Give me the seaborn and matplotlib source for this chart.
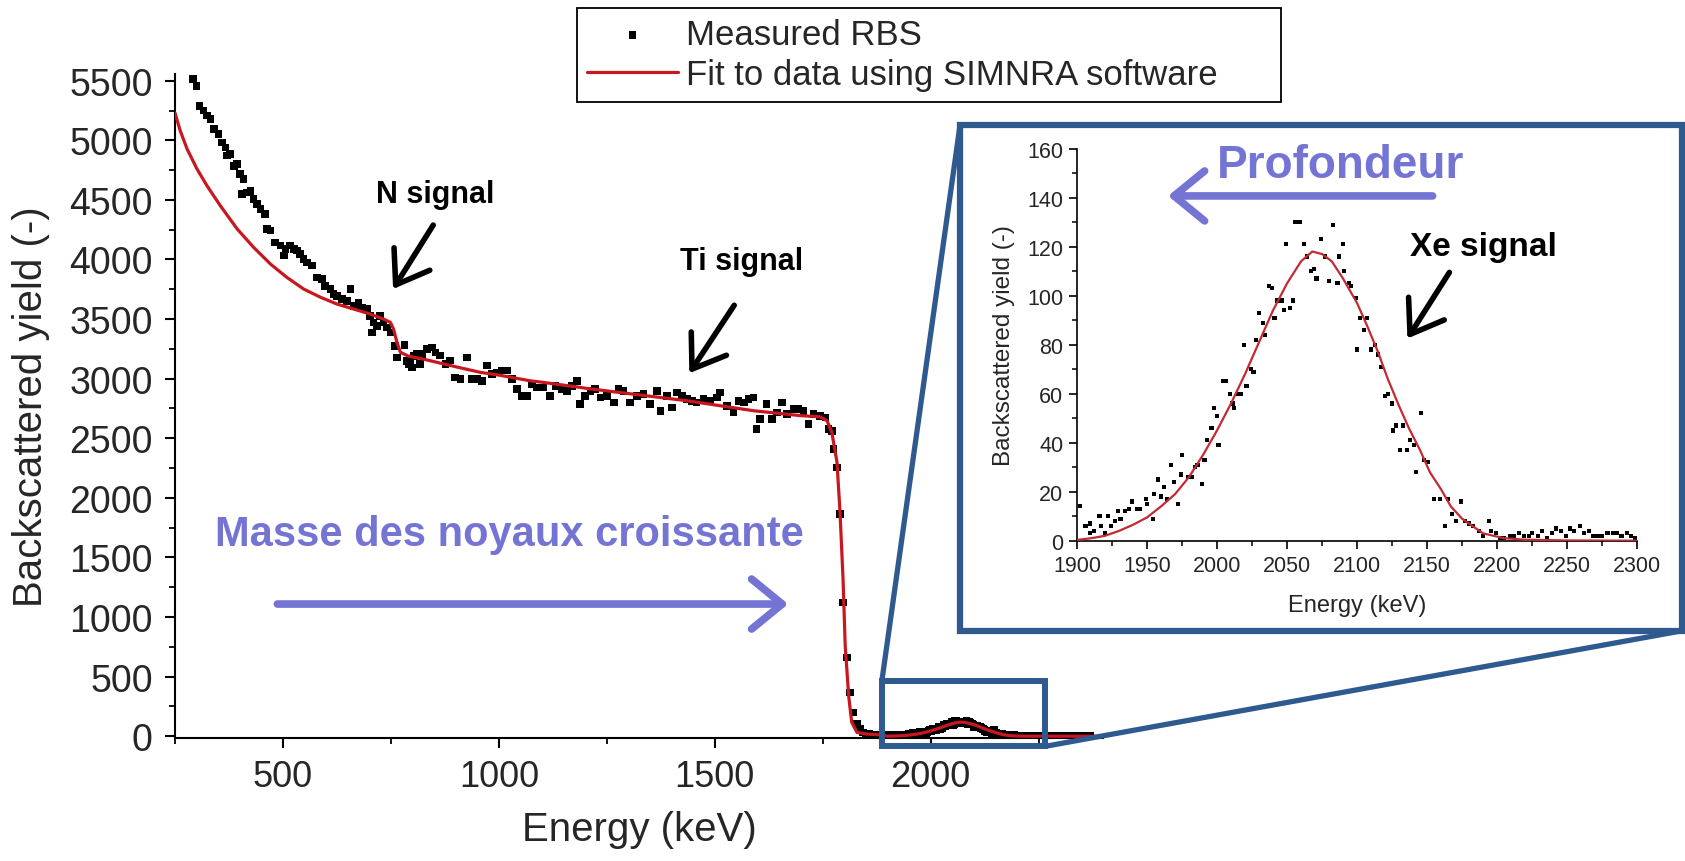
import matplotlib
matplotlib.use("Agg")
import matplotlib.pyplot as plt
import seaborn as sns
import pandas as pd
from matplotlib.patches import Rectangle, ConnectionPatch
from matplotlib.ticker import MultipleLocator
from matplotlib import font_manager as fm

# ---------------- data ----------------
# main spectrum, measured RBS points (keV, counts)
energy_main = [292, 300, 307, 316, 324, 332, 340, 351, 359, 367, 371, 378, 386, 394, 401, 405, 409, 417,
               425, 432, 440, 448, 459, 463, 471, 482, 494, 502, 506, 517, 525, 533, 540, 548, 556, 567,
               579, 591, 598, 610, 617, 625, 637, 648, 656, 664, 675, 683, 694, 702, 706, 710, 718, 725,
               733, 741, 749, 760, 764, 781, 787, 791, 795, 799, 803, 810, 818, 822, 834, 845, 853, 864,
               876, 887, 899, 911, 926, 938, 949, 961, 972, 984, 996, 1007, 1019, 1030, 1042, 1053, 1065,
               1077, 1088, 1103, 1119, 1131, 1146, 1158, 1169, 1181, 1188, 1200, 1212, 1223, 1235, 1250,
               1266, 1277, 1289, 1304, 1320, 1335, 1350, 1366, 1374, 1389, 1401, 1412, 1424, 1435, 1447,
               1458, 1474, 1489, 1505, 1512, 1528, 1543, 1555, 1567, 1578, 1590, 1597, 1605, 1620, 1632,
               1644, 1655, 1667, 1682, 1694, 1705, 1717, 1729, 1744, 1756, 1763, 1771, 1775, 1783, 1790,
               1797, 1806, 1813, 1821, 1829, 1836, 1843, 1850, 1858, 1866, 1874, 1882, 1890]
yield_main = [5514, 5458, 5290, 5249, 5207, 5179, 5095, 5053, 4983, 4941, 4871, 4885, 4787, 4801, 4717, 4549, 4675, 4563,
              4577, 4507, 4466, 4424, 4382, 4256, 4242, 4144, 4116, 4032, 4088, 4116, 4088, 4074, 4046, 4004, 3976, 3948,
              3850, 3836, 3780, 3752, 3710, 3696, 3668, 3654, 3752, 3612, 3640, 3598, 3584, 3528, 3388, 3472, 3444, 3528,
              3472, 3430, 3388, 3276, 3179, 3280, 3150, 3123, 3136, 3095, 3192, 3207, 3123, 3206, 3249, 3263, 3221, 3193,
              3123, 3151, 3011, 2997, 3179, 2997, 2997, 2983, 3109, 3039, 3053, 3067, 3067, 2997, 2913, 2857, 2857,
              2955, 2927, 2927, 2857, 2941, 2913, 2899, 2941, 2983, 2787, 2857, 2899, 2913, 2843, 2857,
              2801, 2913, 2899, 2801, 2857, 2871, 2787, 2899, 2731, 2857, 2759, 2885, 2857, 2829, 2815,
              2801, 2829, 2815, 2843, 2885, 2773, 2717, 2815, 2801, 2829, 2843, 2577, 2661, 2787, 2661,
              2717, 2801, 2703, 2745, 2745, 2731, 2619, 2703, 2689, 2675, 2577, 2563, 2410, 2256, 1864,
              1123, 662, 368, 200, 102, 60, 30, 22, 18, 15, 12, 12, 10]
energy_tail = [2310, 2320, 2330, 2340, 2350, 2360, 2370]
yield_tail = [2, 3, 1, 2, 2, 1, 2]

# SIMNRA fit, main spectrum (keV, counts)
fit_energy_main = [250, 262, 278, 301, 324, 355, 394, 432, 471, 509, 548, 587, 625, 664, 702, 733, 749, 756,
                   764, 772, 790, 830, 900, 957, 1000, 1071, 1100, 1188, 1200, 1300, 1435, 1590, 1698, 1744,
                   1760, 1771, 1783, 1790, 1797, 1802, 1810, 1817, 1829, 1852, 1880]
fit_yield_main = [5230, 5081, 4927, 4759, 4619, 4451, 4256, 4102, 3962, 3850, 3752, 3683, 3626, 3584, 3542, 3500, 3472, 3416,
                  3305, 3221, 3190, 3160, 3100, 3053, 3030, 2983, 2970, 2927, 2920, 2875, 2815, 2731, 2690, 2680,
                  2647, 2550, 2298, 1879, 1319, 759, 340, 117, 33, 18, 12]
fit_energy_end = [2350, 2390]
fit_yield_end = [0, 0]

# Xe signal (inset), measured points
energy_xe = [1902, 1906, 1909, 1909, 1912, 1916, 1917, 1920, 1922, 1924, 1927, 1929, 1931, 1934, 1937, 1939,
             1943, 1945, 1949, 1950, 1954, 1955, 1958, 1960, 1962, 1964, 1967, 1969, 1972, 1974, 1975, 1979,
             1982, 1984, 1986, 1989, 1991, 1993, 1996, 1998, 2000, 2001, 2004, 2006, 2009, 2011, 2012, 2015,
             2017, 2019, 2021, 2024, 2026, 2028, 2030, 2033, 2034, 2037, 2039, 2041, 2043, 2046, 2048, 2049,
             2052, 2054, 2056, 2059, 2062, 2064, 2067, 2069, 2071, 2074, 2077, 2080, 2083, 2086, 2087, 2090,
             2091, 2094, 2096, 2099, 2100, 2102, 2105, 2107, 2110, 2113, 2115, 2117, 2120, 2122, 2125, 2126,
             2128, 2131, 2133, 2136, 2138, 2141, 2142, 2146, 2148, 2151, 2155, 2159, 2163, 2165, 2168, 2171,
             2174, 2177, 2180, 2183, 2187, 2190, 2194, 2196, 2199, 2202, 2205, 2209, 2212, 2216, 2219, 2223,
             2225, 2229, 2232, 2236, 2239, 2242, 2246, 2249, 2252, 2255, 2259, 2262, 2266, 2269, 2272, 2275,
             2279, 2283, 2286, 2289, 2293, 2296, 2299]
yield_xe = [14, 6, 7, 3, 4, 10, 6, 3, 10, 6, 8, 12, 9, 12, 13, 16,
            13, 13, 17, 15, 9, 19, 25, 18, 22, 17, 31, 24, 15, 27, 35, 26,
            26, 30, 31, 23, 33, 41, 46, 54, 51, 39, 65, 65, 60, 56, 54, 60,
            60, 80, 63, 70, 69, 82, 93, 89, 84, 104, 103, 91, 98, 98, 94, 121,
            95, 98, 130, 130, 121, 116, 110, 111, 107, 123, 116, 106, 129, 105, 116, 121,
            110, 105, 104, 99, 78, 91, 86, 91, 78, 80, 76, 71, 59, 60, 56, 45,
            47, 37, 47, 37, 41, 39, 28, 52, 33, 32, 17, 17, 6, 17, 11, 8,
            16, 8, 7, 6, 4, 2, 8, 4, 3, 1, 1, 2, 2, 3, 2, 2,
            3, 2, 4, 1, 3, 5, 4, 2, 5, 4, 6, 3, 4, 2, 2, 2,
            3, 3, 3, 2, 3, 2, 1]

# SIMNRA fit, Xe signal (inset)
fit_energy_xe = [1900, 1910, 1920, 1930, 1940, 1950, 1960, 1970, 1980, 1990, 2000, 2010, 2020, 2030, 2040,
                 2050, 2060, 2068, 2075, 2082, 2090, 2100, 2107, 2115, 2122, 2130, 2137, 2145, 2152, 2160,
                 2167, 2175, 2190, 2205, 2220, 2250, 2300]
fit_yield_xe = [0.3, 1, 2, 4, 6.5, 9.5, 14, 19, 26, 35, 45, 56, 68, 81, 94,
                105, 114, 118, 117, 114, 107, 97, 88, 77, 66, 55, 46, 37, 28, 21,
                14, 9, 3, 1, 0.4, 0.1, 0]

main_points = pd.DataFrame({"E": energy_main + energy_xe + energy_tail,
                            "Y": yield_main + yield_xe + yield_tail})
main_fit = pd.DataFrame({"E": fit_energy_main + fit_energy_xe + fit_energy_end,
                         "Y": fit_yield_main + fit_yield_xe + fit_yield_end})
xe_points = pd.DataFrame({"E": energy_xe, "Y": yield_xe})
xe_fit = pd.DataFrame({"E": fit_energy_xe, "Y": fit_yield_xe})

# ---------------- style ----------------
sns.set_theme(style="ticks")
plt.rcParams["font.family"] = ["Liberation Sans", "DejaVu Sans"]


def has_font(name):
    try:
        fm.findfont(fm.FontProperties(family=name), fallback_to_default=False)
        return True
    except Exception:
        return False


NARROW = "Liberation Sans Narrow" if has_font("Liberation Sans Narrow") else None

RED = "#C8171F"
PURPLE = "#7474D4"
BLUE = "#2E5A90"

fig = plt.figure(figsize=(16.85, 8.62), dpi=100)
fig.patch.set_facecolor("white")

# ---------------- main axes ----------------
ax = fig.add_axes([0.10386, 0.14269, 0.5510, 0.7708])
sns.scatterplot(data=main_points, x="E", y="Y", marker="s", s=30, color="black",
                edgecolor="none", linewidth=0, ax=ax, label="Measured RBS", zorder=3)
sns.lineplot(data=main_fit, x="E", y="Y", color=RED, lw=2.3, ax=ax, sort=False,
             estimator=None, label="Fit to data using SIMNRA software", zorder=4)
handles, labels = ax.get_legend_handles_labels()
if ax.get_legend() is not None:
    ax.get_legend().remove()

ax.set_xlim(250, 2400)
ax.set_ylim(-15, 5560)
ax.xaxis.set_major_locator(MultipleLocator(500))
ax.xaxis.set_minor_locator(MultipleLocator(250))
ax.yaxis.set_major_locator(MultipleLocator(500))
ax.yaxis.set_minor_locator(MultipleLocator(250))
ax.tick_params(axis="both", which="major", direction="out", length=7, width=1.5, color="black")
ax.tick_params(axis="both", which="minor", direction="out", length=4, width=1.3, color="black")
ax.tick_params(axis="x", which="major", labelsize=26, pad=8)
ax.tick_params(axis="y", which="major", labelsize=27, pad=9)
for s in ["left", "bottom"]:
    ax.spines[s].set_linewidth(1.5)
    ax.spines[s].set_color("black")
sns.despine(ax=ax)
ax.set_facecolor("white")

ax.set_xlabel("Energy (keV)", fontsize=29, va="top")
ax.set_ylabel("Backscattered yield (-)", fontsize=29)
ax.xaxis.set_label_coords(0.5, -0.108)
ax.yaxis.set_label_coords(-0.135, 0.5)

# callout texts and arrows on main axes
if NARROW:
    callout_kw = dict(family=[NARROW, "DejaVu Sans"], fontweight="bold", fontsize=24)
else:
    callout_kw = dict(fontweight="bold", fontsize=22)
ax.text(853, 4549, "N signal", ha="center", va="center", color="black", **callout_kw)
ax.annotate("", xy=(755, 3752), xytext=(848, 4289),
            arrowprops=dict(arrowstyle="->,head_length=0.55,head_width=0.38", lw=4,
                            color="black", mutation_scale=40, shrinkA=0, shrinkB=0))
ax.text(1561, 3987, "Ti signal", ha="center", va="center", color="black", **callout_kw)
ax.annotate("", xy=(1441, 3046), xytext=(1545, 3616),
            arrowprops=dict(arrowstyle="->,head_length=0.55,head_width=0.38", lw=4,
                            color="black", mutation_scale=40, shrinkA=0, shrinkB=0))

ax.text(1024, 1697, "Masse des noyaux croissante", ha="center", va="center", color=PURPLE,
        fontsize=30, fontweight="bold")
ax.annotate("", xy=(1670, 1109), xytext=(487, 1109),
            arrowprops=dict(arrowstyle="->,head_length=0.55,head_width=0.45", lw=5.5,
                            color=PURPLE, mutation_scale=40, shrinkA=0, shrinkB=0))

# small zoom box on main axes
zoom_box = Rectangle((1887, -85), 378, 551, fill=False, edgecolor=BLUE, lw=4.3,
                     clip_on=False, zorder=6)
ax.add_patch(zoom_box)

# ---------------- inset axes ----------------
axin = fig.add_axes([0.6392, 0.3716, 0.3323, 0.4548])
sns.scatterplot(data=xe_points, x="E", y="Y", marker="s", s=9, color="black",
                edgecolor="none", linewidth=0, ax=axin, zorder=3, legend=False)
sns.lineplot(data=xe_fit, x="E", y="Y", color="#C42A33", lw=1.6, ax=axin, sort=False,
             estimator=None, zorder=4, legend=False)
axin.set_xlim(1900, 2300)
axin.set_ylim(0, 160)
axin.xaxis.set_major_locator(MultipleLocator(50))
axin.xaxis.set_minor_locator(MultipleLocator(25))
axin.yaxis.set_major_locator(MultipleLocator(20))
axin.yaxis.set_minor_locator(MultipleLocator(10))
axin.tick_params(axis="both", which="major", direction="out", length=6, width=1.2,
                 labelsize=15.5, pad=4, color="black")
axin.tick_params(axis="both", which="minor", direction="out", length=3.5, width=1.1, color="black")
for s in ["left", "bottom"]:
    axin.spines[s].set_linewidth(1.2)
    axin.spines[s].set_color("black")
sns.despine(ax=axin)
axin.set_facecolor("white")
axin.set_xlabel("Energy (keV)", fontsize=17, va="top")
axin.set_ylabel("Backscattered yield (-)", fontsize=17.5)
axin.xaxis.set_label_coords(0.5, -0.135)
axin.yaxis.set_label_coords(-0.11, 0.5)

axin.text(2088, 153.5, "Profondeur", ha="center", va="center", color=PURPLE,
          fontsize=33, fontweight="bold", clip_on=False)
axin.annotate("", xy=(1965, 140.7), xytext=(2154, 140.7),
              arrowprops=dict(arrowstyle="->,head_length=0.55,head_width=0.45", lw=5.5,
                              color=PURPLE, mutation_scale=40, shrinkA=0, shrinkB=0))
if NARROW:
    xe_kw = dict(family=[NARROW, "DejaVu Sans"], fontweight="bold", fontsize=27)
else:
    xe_kw = dict(fontweight="bold", fontsize=24)
axin.text(2190, 120, "Xe signal", ha="center", va="center", color="black", **xe_kw)
axin.annotate("", xy=(2136, 82.5), xytext=(2166, 109.5),
              arrowprops=dict(arrowstyle="->,head_length=0.55,head_width=0.38", lw=4,
                              color="black", mutation_scale=40, shrinkA=0, shrinkB=0))

# big frame around the inset
frame = Rectangle((-0.209, -0.230), 1.289, 1.290, transform=axin.transAxes, fill=False,
                  edgecolor=BLUE, lw=4.5, clip_on=False, zorder=6)
axin.add_patch(frame)

# connector lines between the zoom box and the frame
con1 = ConnectionPatch(xyA=(1887, 466), coordsA=ax.transData,
                       xyB=(-0.209, 1.060), coordsB=axin.transAxes,
                       color=BLUE, lw=3.8, zorder=7)
con2 = ConnectionPatch(xyA=(2265, -85), coordsA=ax.transData,
                       xyB=(1.080, -0.230), coordsB=axin.transAxes,
                       color=BLUE, lw=3.8, zorder=7)
fig.add_artist(con1)
fig.add_artist(con2)

# ---------------- legend ----------------
leg = fig.legend(handles, labels, loc="upper left",
                 bbox_to_anchor=(577 / 1685, 1 - 114 / 862, 704 / 1685, 105 / 862),
                 mode="expand", fontsize=25, frameon=True, fancybox=False, framealpha=1,
                 edgecolor="black", borderpad=0.3, labelspacing=0.2, handlelength=2.6,
                 handletextpad=0.25, borderaxespad=0, markerscale=1.0)
leg.get_frame().set_linewidth(1.3)

fig.savefig("out.png", dpi=100, facecolor="white")
